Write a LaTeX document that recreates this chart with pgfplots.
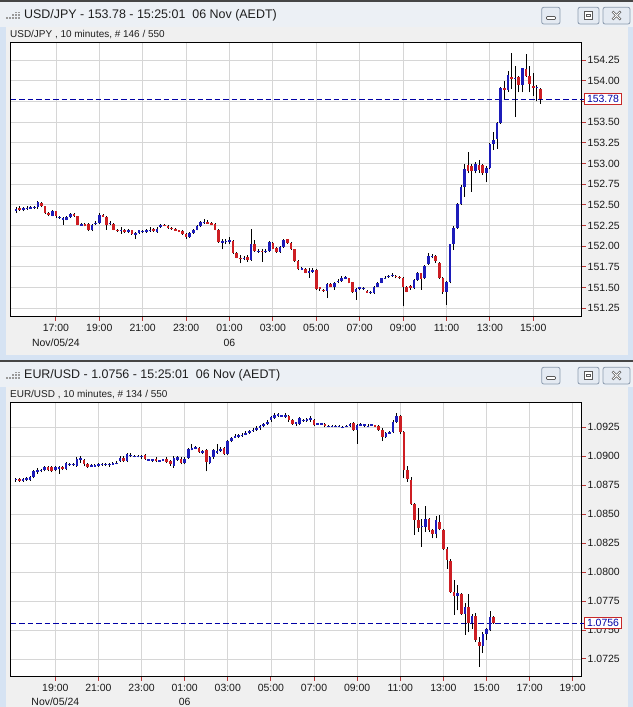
\documentclass[border=0pt]{standalone}
\usepackage{fontspec}
\setmainfont{Liberation Sans}
\usepackage{pgfplots}
\usepackage{pgfplotstable}
\pgfplotsset{compat=1.18}

\definecolor{upc}{RGB}{28,28,185}
\definecolor{dnc}{RGB}{205,30,35}
\definecolor{gridc}{RGB}{214,214,214}
\definecolor{tickc}{RGB}{185,55,55}
\definecolor{navyc}{RGB}{0,0,165}
\definecolor{winbg}{RGB}{240,240,240}
\definecolor{frameblue}{RGB}{214,227,243}
\definecolor{titlebg}{RGB}{236,240,245}
\definecolor{darkframe}{RGB}{70,70,70}
\definecolor{btnborder}{RGB}{140,155,175}
\definecolor{btnfill}{RGB}{228,234,242}
\definecolor{boxred}{RGB}{200,40,40}
\definecolor{boxtext}{RGB}{0,0,165}

% USD/JPY 10-minute bars, n = bar number from 15:10 Nov/05
\pgfplotstableread{
n o h l c
0 152.42 152.47 152.40 152.45
1 152.46 152.48 152.43 152.45
2 152.45 152.47 152.42 152.46
3 152.46 152.48 152.44 152.46
4 152.46 152.49 152.45 152.47
5 152.47 152.49 152.45 152.47
6 152.47 152.54 152.45 152.53
7 152.52 152.53 152.47 152.48
8 152.48 152.49 152.39 152.40
9 152.40 152.41 152.36 152.39
10 152.37 152.44 152.36 152.43
11 152.42 152.43 152.34 152.36
12 152.35 152.37 152.33 152.35
13 152.33 152.35 152.26 152.33
14 152.32 152.36 152.31 152.35
15 152.35 152.40 152.34 152.39
16 152.39 152.40 152.35 152.36
17 152.36 152.37 152.25 152.26
18 152.26 152.28 152.25 152.26
19 152.27 152.28 152.24 152.25
20 152.27 152.28 152.18 152.19
21 152.19 152.27 152.18 152.26
22 152.27 152.30 152.26 152.28
23 152.28 152.40 152.27 152.38
24 152.38 152.39 152.35 152.36
25 152.35 152.37 152.20 152.26
26 152.27 152.30 152.26 152.28
27 152.27 152.28 152.19 152.20
28 152.20 152.21 152.17 152.19
29 152.19 152.23 152.15 152.19
30 152.19 152.21 152.16 152.18
31 152.18 152.21 152.16 152.19
32 152.19 152.20 152.14 152.15
33 152.15 152.17 152.09 152.15
34 152.16 152.20 152.15 152.19
35 152.18 152.20 152.16 152.18
36 152.17 152.21 152.16 152.20
37 152.19 152.23 152.17 152.19
38 152.21 152.22 152.17 152.18
39 152.17 152.23 152.16 152.21
40 152.23 152.27 152.22 152.26
41 152.26 152.27 152.24 152.25
42 152.25 152.26 152.21 152.22
43 152.22 152.23 152.20 152.21
44 152.21 152.22 152.18 152.19
45 152.19 152.20 152.17 152.18
46 152.18 152.19 152.14 152.15
47 152.15 152.16 152.09 152.11
48 152.11 152.17 152.10 152.16
49 152.16 152.21 152.15 152.20
50 152.20 152.25 152.19 152.24
51 152.24 152.30 152.23 152.29
52 152.29 152.33 152.27 152.29
53 152.29 152.32 152.27 152.28
54 152.28 152.29 152.25 152.26
55 152.27 152.28 152.19 152.20
56 152.20 152.21 152.04 152.05
57 152.05 152.08 151.96 152.06
58 152.06 152.08 152.02 152.06
59 152.06 152.11 152.02 152.07
60 152.06 152.07 151.91 151.92
61 151.92 151.93 151.85 151.86
62 151.86 151.89 151.79 151.85
63 151.85 151.88 151.83 151.86
64 151.87 151.89 151.81 151.83
65 151.83 152.21 151.82 152.03
66 152.03 152.07 151.93 151.94
67 151.94 151.96 151.92 151.94
68 151.94 151.96 151.81 151.93
69 151.93 151.96 151.92 151.94
70 151.94 152.06 151.93 152.05
71 152.04 152.05 151.96 151.97
72 151.98 151.99 151.92 151.93
73 151.93 152.00 151.92 151.99
74 151.99 152.09 151.98 152.08
75 152.08 152.09 152.03 152.04
76 152.04 152.05 151.95 151.96
77 151.96 151.97 151.81 151.82
78 151.82 151.83 151.71 151.72
79 151.72 151.75 151.71 151.73
80 151.72 151.73 151.67 151.68
81 151.69 151.74 151.62 151.69
82 151.70 151.73 151.68 151.71
83 151.71 151.72 151.47 151.48
84 151.50 151.51 151.46 151.48
85 151.47 151.48 151.45 151.46
86 151.46 151.55 151.37 151.54
87 151.54 151.55 151.50 151.51
88 151.51 151.57 151.47 151.56
89 151.57 151.60 151.55 151.58
90 151.58 151.64 151.57 151.62
91 151.62 151.64 151.60 151.62
92 151.61 151.62 151.55 151.56
93 151.56 151.57 151.43 151.44
94 151.44 151.49 151.35 151.48
95 151.49 151.51 151.47 151.50
96 151.49 151.51 151.47 151.49
97 151.45 151.47 151.43 151.44
98 151.44 151.46 151.42 151.44
99 151.43 151.52 151.42 151.51
100 151.51 151.57 151.50 151.56
101 151.56 151.62 151.55 151.61
102 151.61 151.64 151.60 151.62
103 151.63 151.65 151.62 151.64
104 151.64 151.67 151.63 151.65
105 151.64 151.65 151.61 151.63
106 151.63 151.64 151.60 151.62
107 151.62 151.63 151.27 151.51
108 151.51 151.52 151.44 151.45
109 151.52 151.53 151.47 151.49
110 151.49 151.60 151.48 151.59
111 151.59 151.69 151.58 151.68
112 151.67 151.68 151.47 151.60
113 151.61 151.77 151.60 151.76
114 151.78 151.92 151.77 151.88
115 151.88 151.91 151.85 151.88
116 151.88 151.89 151.80 151.82
117 151.80 151.81 151.60 151.62
118 151.62 151.63 151.42 151.44
119 151.45 151.58 151.29 151.56
120 151.56 152.03 151.55 152.02
121 152.02 152.24 151.95 152.22
122 152.22 152.52 152.21 152.51
123 152.51 152.74 152.50 152.71
124 152.72 152.99 152.60 152.94
125 152.98 153.14 152.88 152.91
126 152.97 152.99 152.66 152.91
127 152.91 153.02 152.88 152.99
128 152.98 153.04 152.89 152.92
129 152.98 152.99 152.86 152.88
130 152.88 152.97 152.77 152.95
131 152.95 153.25 152.93 153.23
132 153.23 153.38 153.16 153.28
133 153.30 153.50 153.18 153.49
134 153.49 153.92 153.48 153.91
135 153.91 154.00 153.78 153.89
136 153.89 154.12 153.87 154.07
137 154.05 154.34 153.90 154.02
138 154.03 154.18 153.56 154.03
139 154.05 154.06 153.86 153.95
140 153.95 154.16 153.86 154.15
141 154.14 154.32 154.05 154.06
142 154.06 154.18 153.86 153.96
143 153.94 154.10 153.82 153.92
144 153.92 153.95 153.75 153.92
145 153.90 153.91 153.72 153.78
}\jpy

% EUR/USD 10-minute bars, n = bar number from 17:10 Nov/05
\pgfplotstableread{
n o h l c
0 1.0880 1.0881 1.0878 1.0880
1 1.0880 1.0881 1.0878 1.0879
2 1.0879 1.0881 1.0878 1.0880
3 1.0880 1.0882 1.0879 1.0881
4 1.0880 1.0883 1.0879 1.0882
5 1.0882 1.0888 1.0881 1.0887
6 1.0887 1.0890 1.0885 1.0888
7 1.0888 1.0889 1.0886 1.0888
8 1.0888 1.0892 1.0887 1.0891
9 1.0891 1.0892 1.0887 1.0888
10 1.0891 1.0892 1.0886 1.0887
11 1.0888 1.0892 1.0887 1.0891
12 1.0889 1.0892 1.0885 1.0891
13 1.0891 1.0892 1.0888 1.0889
14 1.0889 1.0895 1.0888 1.0894
15 1.0893 1.0894 1.0892 1.0893
16 1.0893 1.0894 1.0892 1.0893
17 1.0892 1.0899 1.0891 1.0898
18 1.0898 1.0900 1.0894 1.0898
19 1.0897 1.0898 1.0892 1.0893
20 1.0893 1.0894 1.0890 1.0891
21 1.0892 1.0893 1.0891 1.0892
22 1.0892 1.0893 1.0891 1.0892
23 1.0892 1.0894 1.0891 1.0893
24 1.0893 1.0894 1.0892 1.0893
25 1.0893 1.0894 1.0892 1.0893
26 1.0893 1.0894 1.0891 1.0893
27 1.0893 1.0895 1.0893 1.0894
28 1.0894 1.0896 1.0893 1.0894
29 1.0896 1.0900 1.0895 1.0899
30 1.0899 1.0900 1.0895 1.0896
31 1.0896 1.0903 1.0895 1.0902
32 1.0901 1.0903 1.0899 1.0901
33 1.0900 1.0901 1.0899 1.0900
34 1.0900 1.0901 1.0899 1.0900
35 1.0900 1.0901 1.0898 1.0900
36 1.0901 1.0902 1.0897 1.0898
37 1.0897 1.0898 1.0896 1.0897
38 1.0897 1.0898 1.0895 1.0897
39 1.0898 1.0899 1.0895 1.0896
40 1.0896 1.0897 1.0895 1.0896
41 1.0897 1.0898 1.0896 1.0897
42 1.0898 1.0899 1.0894 1.0895
43 1.0896 1.0897 1.0892 1.0893
44 1.0892 1.0900 1.0890 1.0899
45 1.0897 1.0900 1.0896 1.0899
46 1.0898 1.0899 1.0893 1.0894
47 1.0894 1.0899 1.0893 1.0898
48 1.0899 1.0907 1.0898 1.0906
49 1.0906 1.0911 1.0905 1.0907
50 1.0907 1.0909 1.0906 1.0907
51 1.0907 1.0908 1.0903 1.0904
52 1.0904 1.0905 1.0902 1.0904
53 1.0905 1.0906 1.0887 1.0895
54 1.0894 1.0900 1.0893 1.0899
55 1.0899 1.0906 1.0898 1.0905
56 1.0904 1.0911 1.0902 1.0904
57 1.0905 1.0908 1.0904 1.0906
58 1.0907 1.0908 1.0901 1.0902
59 1.0902 1.0914 1.0901 1.0913
60 1.0913 1.0917 1.0912 1.0916
61 1.0917 1.0919 1.0916 1.0917
62 1.0917 1.0919 1.0916 1.0918
63 1.0918 1.0920 1.0917 1.0918
64 1.0919 1.0922 1.0918 1.0920
65 1.0920 1.0923 1.0919 1.0922
66 1.0922 1.0924 1.0921 1.0923
67 1.0923 1.0926 1.0922 1.0924
68 1.0924 1.0927 1.0923 1.0926
69 1.0926 1.0929 1.0925 1.0928
70 1.0928 1.0931 1.0927 1.0930
71 1.0931 1.0935 1.0930 1.0934
72 1.0933 1.0937 1.0932 1.0936
73 1.0936 1.0937 1.0934 1.0936
74 1.0935 1.0936 1.0934 1.0935
75 1.0935 1.0937 1.0933 1.0935
76 1.0935 1.0936 1.0930 1.0931
77 1.0931 1.0932 1.0927 1.0928
78 1.0929 1.0930 1.0926 1.0929
79 1.0928 1.0934 1.0927 1.0933
80 1.0931 1.0932 1.0930 1.0931
81 1.0931 1.0933 1.0930 1.0932
82 1.0932 1.0935 1.0930 1.0933
83 1.0931 1.0932 1.0926 1.0927
84 1.0928 1.0929 1.0927 1.0928
85 1.0928 1.0929 1.0927 1.0928
86 1.0928 1.0929 1.0925 1.0926
87 1.0926 1.0927 1.0925 1.0926
88 1.0926 1.0927 1.0925 1.0926
89 1.0926 1.0927 1.0925 1.0926
90 1.0926 1.0927 1.0925 1.0926
91 1.0925 1.0926 1.0924 1.0925
92 1.0926 1.0927 1.0925 1.0926
93 1.0926 1.0929 1.0925 1.0928
94 1.0929 1.0930 1.0922 1.0923
95 1.0923 1.0928 1.0911 1.0927
96 1.0927 1.0929 1.0926 1.0927
97 1.0927 1.0928 1.0925 1.0927
98 1.0926 1.0928 1.0925 1.0926
99 1.0927 1.0928 1.0926 1.0927
100 1.0927 1.0927 1.0925 1.0926
101 1.0926 1.0927 1.0922 1.0923
102 1.0923 1.0924 1.0913 1.0917
103 1.0917 1.0921 1.0916 1.0920
104 1.0920 1.0922 1.0919 1.0921
105 1.0921 1.0931 1.0920 1.0930
106 1.0930 1.0937 1.0929 1.0935
107 1.0935 1.0936 1.0919 1.0921
108 1.0921 1.0922 1.0881 1.0888
109 1.0888 1.0892 1.0878 1.0880
110 1.0880 1.0882 1.0858 1.0859
111 1.0859 1.0860 1.0832 1.0845
112 1.0845 1.0855 1.0835 1.0838
113 1.0839 1.0846 1.0822 1.0840
114 1.0839 1.0857 1.0835 1.0846
115 1.0846 1.0847 1.0835 1.0836
116 1.0836 1.0837 1.0829 1.0833
117 1.0833 1.0848 1.0829 1.0845
118 1.0843 1.0849 1.0836 1.0837
119 1.0836 1.0837 1.0819 1.0820
120 1.0820 1.0822 1.0803 1.0810
121 1.0810 1.0811 1.0782 1.0783
122 1.0783 1.0793 1.0763 1.0779
123 1.0779 1.0789 1.0767 1.0782
124 1.0781 1.0782 1.0763 1.0764
125 1.0764 1.0773 1.0746 1.0770
126 1.0770 1.0781 1.0748 1.0756
127 1.0756 1.0764 1.0751 1.0762
128 1.0762 1.0765 1.0740 1.0741
129 1.0740 1.0744 1.0718 1.0736
130 1.0736 1.0748 1.0730 1.0747
131 1.0747 1.0752 1.0741 1.0751
132 1.0750 1.0766 1.0749 1.0761
133 1.0761 1.0762 1.0755 1.0756
}\eur

\pgfplotsset{
  fxaxis/.style={
    scale only axis, width=571bp, height=274bp,
    axis background/.style={fill=white},
    grid=major, grid style={gridc, line width=0.8bp},
    axis line style={black, line width=1.1bp},
    tick align=outside, major tick length=4bp,
    tick style={tickc, line width=0.9bp},
    xtick pos=left, ytick pos=right, yticklabel pos=right,
    tick label style={font=\fontsize{10.5}{12}\selectfont, text=black!90},
    yticklabel style={anchor=west, xshift=-1.5bp},
    scaled y ticks=false,
    clip=false,
  },
}

% #1 table, #2 minimal half body height
\newcommand{\candles}[2]{%
  \addplot[mark=none, draw=none, forget plot,
    error bars/.cd, y dir=plus, y explicit, error mark=none,
    error bar style={line width=0.8bp, draw=black}]
    table[x=n, y=l, y error expr={\thisrow{h}-\thisrow{l}}]{#1};
  \addplot[mark=none, draw=none, forget plot,
    restrict expr to domain={\thisrow{c}-\thisrow{o}}{0:1000},
    error bars/.cd, y dir=both, y explicit, error mark=none,
    error bar style={line width=2.6bp, draw=upc}]
    table[x=n, y expr={(\thisrow{o}+\thisrow{c})/2},
      y error expr={max(abs(\thisrow{c}-\thisrow{o})/2,#2)}]{#1};
  \addplot[mark=none, draw=none, forget plot,
    restrict expr to domain={\thisrow{o}-\thisrow{c}}{0.00001:1000},
    error bars/.cd, y dir=both, y explicit, error mark=none,
    error bar style={line width=2.6bp, draw=dnc}]
    table[x=n, y expr={(\thisrow{o}+\thisrow{c})/2},
      y error expr={max(abs(\thisrow{c}-\thisrow{o})/2,#2)}]{#1};
}

\newcommand{\winchrome}[3]{% #1 top y (bp, positive down), #2 title, #3 subtitle
  \fill[darkframe] (0,-#1bp) rectangle (633bp,-#1bp-1.6bp);
  \fill[titlebg] (0,-#1bp-1.6bp) rectangle (633bp,-#1bp-27bp);
  \fill[winbg] (6bp,-#1bp-27bp) rectangle (628bp,-#1bp-355bp);
  % icon
  \foreach \ix/\n in {0/1,1/1,2/2,3/3,4/3}{
    \foreach \iy in {1,...,\n}{
      \fill[gray!80] (6bp+\ix*3bp,-#1bp-19.5bp+\iy*2.6bp) rectangle ++(1.6bp,-1.6bp);
    }
  }
  \node[anchor=west, inner sep=0pt, font=\fontsize{12.5}{14}\selectfont, text=black!88]
    at (24bp,-#1bp-15bp) {#2};
  \node[anchor=west, inner sep=0pt, font=\fontsize{10}{12}\selectfont, text=black!88]
    at (10bp,-#1bp-35bp) {#3};
  % buttons
  \foreach \xa/\xb in {541.7/560, 578/599, 603/630}{
    \draw[btnborder, line width=0.8bp, fill=btnfill, rounded corners=2bp]
      (\xa bp,-#1bp-7.3bp) rectangle (\xb bp,-#1bp-24bp);
  }
  \draw[gray!70!black, line width=0.7bp, fill=white, rounded corners=0.8bp]
    (546.5bp,-#1bp-16.5bp) rectangle (555.5bp,-#1bp-19.5bp);
  \draw[gray!70!black, line width=0.7bp, fill=white]
    (584.5bp,-#1bp-11.5bp) rectangle (592.5bp,-#1bp-19.5bp);
  \draw[gray!70!black, line width=0.7bp]
    (586.8bp,-#1bp-14.3bp) rectangle (590.2bp,-#1bp-16.8bp);
  \draw[gray!70!black, line width=2.4bp] (612.5bp,-#1bp-11.5bp) -- (620.5bp,-#1bp-19.5bp)
    (612.5bp,-#1bp-19.5bp) -- (620.5bp,-#1bp-11.5bp);
  \draw[white, line width=1bp] (612.9bp,-#1bp-11.9bp) -- (620.1bp,-#1bp-19.1bp)
    (612.9bp,-#1bp-19.1bp) -- (620.1bp,-#1bp-11.9bp);
}

\begin{document}
\begin{tikzpicture}
\useasboundingbox (0,0) rectangle (633bp,-707bp);
\fill[frameblue] (0,0) rectangle (633bp,-707bp);
\winchrome{0}{USD/JPY - 153.78 - 15:25:01\ \ 06 Nov (AEDT)}{USD/JPY , 10 minutes, \# 146 / 550}
\winchrome{360}{EUR/USD - 1.0756 - 15:25:01\ \ 06 Nov (AEDT)}{EUR/USD , 10 minutes, \# 134 / 550}
\fill[winbg] (6bp,-700bp) rectangle (628bp,-707bp);

% ---------------- USD/JPY ----------------
\begin{axis}[fxaxis,
  at={(10.7bp,-42.5bp)}, anchor=north west,
  xmin=-1.5, xmax=156.4, ymin=151.148, ymax=154.464,
  xtick={11,23,35,47,59,71,83,95,107,119,131,143},
  xticklabels={17:00,19:00,21:00,23:00,01:00,03:00,05:00,07:00,09:00,11:00,13:00,15:00},
  ytick={151.25,151.5,151.75,152,152.25,152.5,152.75,153,153.25,153.5,153.75,154,154.25},
  yticklabels={151.25,151.50,151.75,152.00,152.25,152.50,152.75,153.00,153.25,153.50,{},154.00,154.25},
]
\addplot[navyc, line width=0.9bp, dash pattern=on 5.5bp off 3bp, forget plot]
  coordinates {(-1.5,153.78) (157.0,153.78)};
\candles{\jpy}{0.006}
\coordinate (P1) at (axis cs:156.4,153.78);
\node[font=\fontsize{10.5}{12}\selectfont, text=black!90, yshift=-26.6bp] at (axis cs:11,151.148) {Nov/05/24};
\node[font=\fontsize{10.5}{12}\selectfont, text=black!90, yshift=-26.6bp] at (axis cs:59,151.148) {06};
\end{axis}
\node[anchor=west, draw=boxred, line width=0.8bp, fill=white, text=boxtext,
  inner xsep=2.6bp, inner ysep=0pt, minimum height=11bp,
  font=\fontsize{10.5}{12}\selectfont] at ([xshift=2.3bp]P1) {153.78};

% ---------------- EUR/USD ----------------
\begin{axis}[fxaxis,
  at={(10.7bp,-402.7bp)}, anchor=north west,
  xmin=-1.42, xmax=157.5, ymin=1.070963, ymax=1.094624,
  xtick={11,23,35,47,59,71,83,95,107,119,131,143,155},
  xticklabels={19:00,21:00,23:00,01:00,03:00,05:00,07:00,09:00,11:00,13:00,15:00,17:00,19:00},
  ytick={1.0725,1.075,1.0775,1.08,1.0825,1.085,1.0875,1.09,1.0925},
  yticklabels={1.0725,1.0750,1.0775,1.0800,1.0825,1.0850,1.0875,1.0900,1.0925},
]
\addplot[navyc, line width=0.9bp, dash pattern=on 5.5bp off 3bp, forget plot]
  coordinates {(-1.42,1.0756) (158.1,1.0756)};
\candles{\eur}{0.00006}
\coordinate (P2) at (axis cs:157.5,1.0756);
\node[font=\fontsize{10.5}{12}\selectfont, text=black!90, yshift=-25bp] at (axis cs:11,1.070963) {Nov/05/24};
\node[font=\fontsize{10.5}{12}\selectfont, text=black!90, yshift=-25bp] at (axis cs:47,1.070963) {06};
\end{axis}
\node[anchor=west, draw=boxred, line width=0.8bp, fill=white, text=boxtext,
  inner xsep=2.6bp, inner ysep=0pt, minimum height=11bp,
  font=\fontsize{10.5}{12}\selectfont] at ([xshift=2.3bp]P2) {1.0756};
\end{tikzpicture}
\end{document}
